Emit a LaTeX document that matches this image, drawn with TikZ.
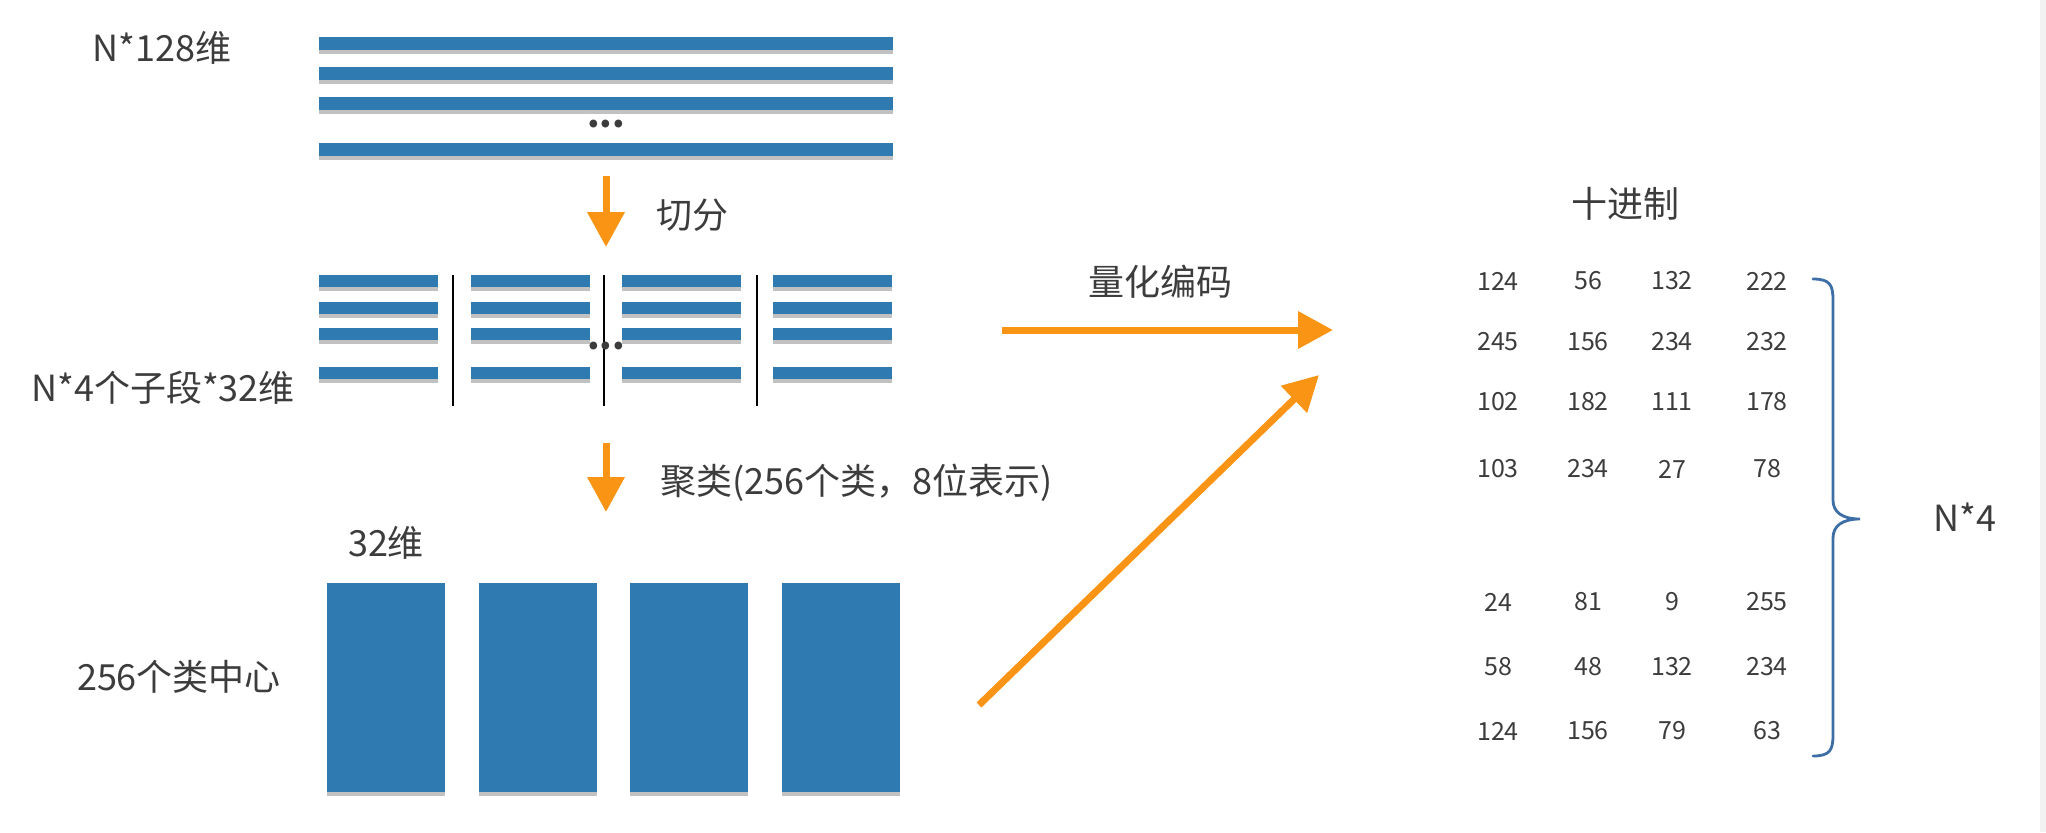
\documentclass[tikz,border=0pt]{standalone}
\usepackage{fontspec}
\setmainfont{Noto Sans CJK SC}
\usepackage{xcolor}
\usetikzlibrary{arrows.meta, shadows}

\definecolor{barblue}{HTML}{2F7AB1}
\definecolor{flow}{HTML}{FA9414}
\definecolor{bracecol}{HTML}{3D6FA6}
\definecolor{ink}{HTML}{3C3C3C}

\begin{document}
\begin{tikzpicture}[x=0.5pt, y=-0.5pt]
            \tikzstyle{Shadowed} = [drop shadow={shadow xshift=0pt, shadow yshift=-2pt, opacity=0.3, fill=black!80}]
            \tikzstyle{Bar} = [Shadowed, fill=barblue, inner sep=0pt, minimum width=287pt, minimum height=6.5pt]
            \tikzstyle{Sub Bar} = [Shadowed, fill=barblue, inner sep=0pt, minimum width=59.5pt, minimum height=6pt]
            \tikzstyle{Center Block} = [Shadowed, fill=barblue, inner sep=0pt, minimum width=59pt, minimum height=104.5pt]
            \tikzstyle{Split Line} = [line width=1.4pt, black]
            \tikzstyle{Flow Arrow} = [line width=3.5pt, color=flow, -{Triangle[length=17.5pt, width=18pt]}]
            \tikzstyle{Label} = [text=ink, font=\fontsize{18}{20}\selectfont, inner sep=0pt]
            \tikzstyle{Code} = [text=ink, font=\fontsize{12.5}{14}\selectfont, inner sep=0pt]
            \useasboundingbox (0,0) rectangle (2046,832);
            \fill[black!5] (2040,0) rectangle (2046,832);
            % original vectors
            \foreach \y [count=\i] in {43.5, 73.5, 103, 149}
                \node[Bar] (bar\i) at (606,\y) {};
            \node[Label, font=\bfseries\fontsize{18}{20}\selectfont] (dotsA) at (606,124) {...};
            \node[Label] (full) at (162,48) {N*128维};
            % split into sub segments
            \foreach \x [count=\j] in {378.5, 530, 681.5, 832.5}
                \foreach \y [count=\i] in {281, 307.5, 334, 372.5}
                    \node[Sub Bar] (sub\j\i) at (\x,\y) {};
            \foreach \x in {453, 604, 757}
                \draw[Split Line] (\x,275) -- (\x,406);
            \node[Label, font=\bfseries\fontsize{18}{20}\selectfont] (dotsB) at (606,346) {...};
            \node[Label] (split) at (163,388) {N*4个子段*32维};
            % cluster centres
            \foreach \x [count=\j] in {386, 538, 689, 840.5}
                \node[Center Block] (block\j) at (\x,687.5) {};
            \node[Label] (dim) at (386,543) {32维};
            \node[Label] (centres) at (179,677) {256个类中心};
            % arrows
            \coordinate (cutFrom) at (606,176);
            \coordinate (cutTo) at (606,247);
            \coordinate (clusterFrom) at (606,443);
            \coordinate (clusterTo) at (606,512);
            \coordinate (codeFrom) at (1002,330);
            \coordinate (codeTo) at (1333,330);
            \coordinate (centreFrom) at (979,705);
            \coordinate (centreTo) at (1319,375);
            \draw[Flow Arrow] (cutFrom) -- (cutTo);
            \draw[Flow Arrow] (clusterFrom) -- (clusterTo);
            \draw[Flow Arrow] (codeFrom) -- (codeTo);
            \draw[Flow Arrow] (centreFrom) -- (centreTo);
            \node[Label, anchor=west] (cut) at (656,215) {切分};
            \node[Label, anchor=west] (cluster) at (660,483) {聚类(256个类，8位表示)};
            \node[Label] (quant) at (1160,282) {量化编码};
            % codes
            \node[Label] (decimal) at (1625,204) {十进制};
            \foreach \y/\a/\b/\c/\d [count=\i] in {281/124/56/132/222, 342/245/156/234/232,
                    402/102/182/111/178, 469/103/234/27/78, 602/24/81/9/255,
                    667/58/48/132/234, 731/124/156/79/63} {
                \node[Code] (code\i a) at (1498,\y) {\a};
                \node[Code] (code\i b) at (1588,\y) {\b};
                \node[Code] (code\i c) at (1672,\y) {\c};
                \node[Code] (code\i d) at (1767,\y) {\d};
            }
            \coordinate (braceTop) at (1813,279);
            \coordinate (braceTip) at (1860,519);
            \coordinate (braceBottom) at (1813,756);
            \draw[bracecol, line width=1.4pt, line cap=round]
                (braceTop) .. controls (1830,279) and (1833,285) .. (1833,300)
                -- (1833,500) .. controls (1833,512) and (1842,519) .. (braceTip)
                .. controls (1842,519) and (1833,526) .. (1833,538)
                -- (1833,735) .. controls (1833,750) and (1830,756) .. (braceBottom);
            \node[Label] (rows) at (1965,517) {N*4};
        \end{tikzpicture}
\end{document}
